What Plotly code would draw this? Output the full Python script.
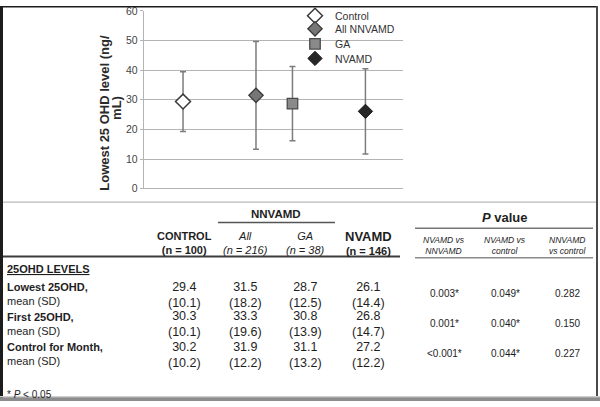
import plotly.graph_objects as go

# ---------------- data ----------------
groups = ["Control", "All NNVAMD", "GA", "NVAMD"]
lowest_mean = [29.4, 31.5, 28.7, 26.1]
lowest_sd = [10.1, 18.2, 12.5, 14.4]

row_labels = ["Lowest 25OHD,", "First 25OHD,", "Control for Month,"]
control_mean = [29.4, 30.3, 30.2]
control_sd = [10.1, 10.1, 10.2]
all_mean = [31.5, 33.3, 31.9]
all_sd = [18.2, 19.6, 12.2]
ga_mean = [28.7, 30.8, 31.1]
ga_sd = [12.5, 13.9, 13.2]
nvamd_mean = [26.1, 26.8, 27.2]
nvamd_sd = [14.4, 14.7, 12.2]
p_nv_vs_nn = ["0.003*", "0.001*", "&lt;0.001*"]
p_nv_vs_ctrl = ["0.049*", "0.040*", "0.044*"]
p_nn_vs_ctrl = ["0.282", "0.150", "0.227"]

col_heads = ["<b>CONTROL</b>", "<i>All</i>", "<i>GA</i>",
             "<b><span style='font-size:13px'>NVAMD</span></b>"]
col_ns = ["<b>(n = 100)</b>", "<i>(n = 216)</i>", "<i>(n = 38)</i>", "<b>(n = 146)</b>"]
p_heads = [("NVAMD vs", "NNVAMD"), ("NVAMD vs", "control"), ("NNVAMD", "vs control")]

# ---------------- layout helpers ----------------
W, H = 600, 407
FONT = "Liberation Sans, Arial, sans-serif"


def px(x):
    return x / W


def py(y):
    return 1 - y / H


fig = go.Figure()

# chart x slots (layout only)
slot = [1, 3, 4, 6]
styles = [
    dict(symbol="diamond", color="white", line=dict(color="#3a3a3a", width=1.5), size=11.5),
    dict(symbol="diamond", color="#767676", line=dict(color="#3a3a3a", width=1.3), size=11),
    dict(symbol="square", color="#8a8a8a", line=dict(color="#4a4a4a", width=1.3), size=10.5),
    dict(symbol="diamond", color="#262626", line=dict(color="#1a1a1a", width=1), size=11),
]
legend_keys = ["legend", "legend2", "legend3", "legend4"]
legend_y = [10, 23.5, 39, 54]

for i, g in enumerate(groups):
    fig.add_trace(go.Scatter(
        x=[slot[i]], y=[lowest_mean[i]], mode="markers", name=g,
        marker=styles[i],
        error_y=dict(type="data", array=[lowest_sd[i]], visible=True,
                     color="#7c7c7c", thickness=1.5, width=3),
        legend=legend_keys[i], showlegend=True,
    ))

legend_common = dict(bgcolor="rgba(0,0,0,0)", borderwidth=0, xanchor="left", yanchor="middle",
                     font=dict(family=FONT, size=10.5, color="#333"), itemsizing="trace")
lay = {}
for i, k in enumerate(legend_keys):
    lay[k] = dict(x=px(295), y=py(legend_y[i]), **legend_common)

fig.update_layout(
    width=W, height=H, margin=dict(l=0, r=0, t=0, b=0),
    paper_bgcolor="white", plot_bgcolor="white",
    xaxis=dict(domain=[px(144), px(403)], range=[-0.07, 7.03], visible=False),
    yaxis=dict(domain=[py(188.3), py(5)], range=[0, 60], dtick=10,
               showgrid=True, gridcolor="#b4b4b4", gridwidth=1.4,
               zeroline=True, zerolinecolor="#b4b4b4", zerolinewidth=1.4,
               showline=True, linecolor="#b4b4b4", linewidth=1.4,
               ticks="outside", ticklen=3, tickcolor="#b4b4b4",
               ticklabeloverflow="allow",
               tickfont=dict(family=FONT, size=10.5, color="#444")),
    **lay,
)


def txt(x, y, s, size, anchor="center", color="#1e1e1e", angle=0, align="center"):
    fig.add_annotation(x=px(x), y=py(y), xref="paper", yref="paper", text=s,
                       showarrow=False, xanchor=anchor, yanchor="middle", textangle=angle,
                       align=align, borderpad=0,
                       font=dict(family=FONT, size=size, color=color))


# y-axis title (two lines)
txt(105, 110, "<b>Lowest 25 OHD level (ng/</b>", 13, angle=-90, color="#2a2a2a")
txt(117, 105, "<b>mL)</b>", 13, angle=-90, color="#2a2a2a")

# ---------------- table ----------------
cols_x = [184, 246, 305, 368]
p_x = [444, 505, 567]


def hline(x0, x1, y, color, width):
    fig.add_shape(type="line", xref="paper", yref="paper", x0=px(x0), x1=px(x1),
                  y0=py(y), y1=py(y), line=dict(color=color, width=width))


hline(3, 596, 202, "#b8b8b8", 1.2)
hline(218, 335, 223, "#555", 1.5)
hline(415, 593, 229, "#777", 1.5)
hline(3, 400, 258, "#3c3c3c", 2)
hline(415, 593, 259.5, "#8a8a8a", 1.5)

txt(276, 214.5, "<b>NNVAMD</b>", 11.5)
txt(505, 218, "<b><i>P</i> value</b>", 13)

for i in range(4):
    txt(cols_x[i], 244.5, col_heads[i] + "<br>" + col_ns[i], 11)
for j in range(3):
    txt(p_x[j], 247, "<i>" + p_heads[j][0] + "<br>" + p_heads[j][1] + "</i>", 8.5)

txt(6, 271, "<b><u>25OHD LEVELS</u></b>", 11, anchor="left")

row_y = [297, 327.5, 359]
val_y = [297.5, 328, 359.5]
p_y = [296.5, 327.5, 358.5]
cols_mean = [control_mean, all_mean, ga_mean, nvamd_mean]
cols_sd = [control_sd, all_sd, ga_sd, nvamd_sd]
p_cols = [p_nv_vs_nn, p_nv_vs_ctrl, p_nn_vs_ctrl]
for r in range(3):
    txt(6, row_y[r], "<b>" + row_labels[r] + "</b><br>mean (SD)", 11, anchor="left", align="left")
    for c in range(4):
        txt(cols_x[c], val_y[r], f"{cols_mean[c][r]:.1f}<br>({cols_sd[c][r]:.1f})", 12.5)
    for j in range(3):
        txt(p_x[j], p_y[r], p_cols[j][r], 10)

txt(6, 400, "* <i>P</i> &lt; 0.05", 10, anchor="left")

# ---------------- frame ----------------
def rect(x0, x1, y0, y1, color):
    fig.add_shape(type="rect", xref="paper", yref="paper", x0=px(x0), x1=px(x1),
                  y0=py(y1), y1=py(y0), fillcolor=color, line=dict(width=0), layer="above")


rect(0, 3, 0, 407, "#1c1c1c")
rect(0, 598, 0, 1.6, "#1c1c1c")
rect(596, 598, 0, 403, "#4a4a4a")
rect(0, 600, 401.8, 403.2, "#cfcfcf")
rect(0, 600, 403.2, 407, "#8c8c8c")

fig.write_html("out.html",
               config={"displayModeBar": False},
               post_script="document.body.style.margin='0';document.body.style.overflow='hidden';")
